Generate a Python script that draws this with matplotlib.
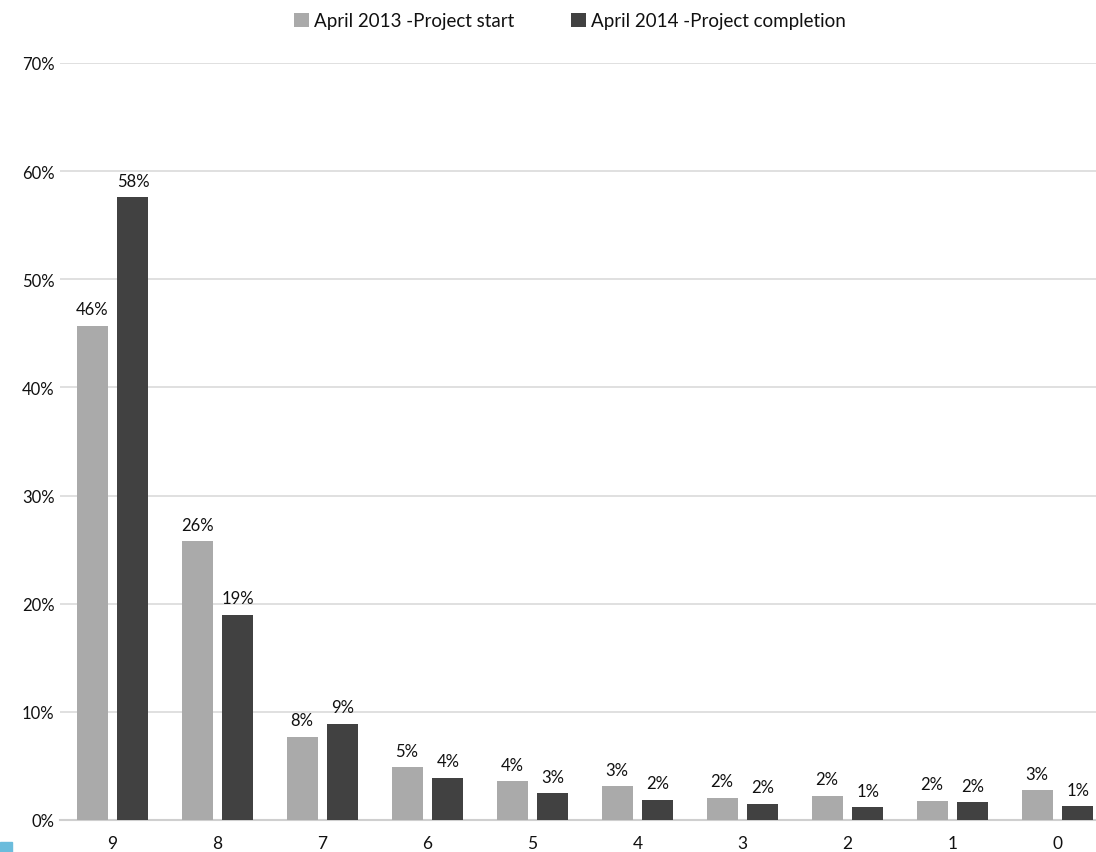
import numpy as np
import matplotlib.pyplot as plt
from matplotlib.patches import Rectangle

# categories and series (fractions)
categories = ['9', '8', '7', '6', '5', '4', '3', '2', '1', '0']
start_2013 = [0.457, 0.258, 0.077, 0.049, 0.036, 0.031, 0.0205, 0.0224, 0.018, 0.0278]
end_2014 = [0.576, 0.190, 0.089, 0.039, 0.025, 0.0189, 0.015, 0.0117, 0.0164, 0.0126]
labels_2013 = ['46%', '26%', '8%', '5%', '4%', '3%', '2%', '2%', '2%', '3%']
labels_2014 = ['58%', '19%', '9%', '4%', '3%', '2%', '2%', '1%', '2%', '1%']
series_names = ['April 2013 -Project start', 'April 2014 -Project completion']
yticks = [0, 0.1, 0.2, 0.3, 0.4, 0.5, 0.6, 0.7]

light = '#aaaaaa'
dark = '#414141'
txt = '#111111'
plt.rcParams['font.family'] = ['Lato', 'DejaVu Sans']

fig = plt.figure(figsize=(10.96, 8.53), dpi=100)
ax = fig.add_axes([60 / 1096, 1 - 821 / 853, 1050 / 1096, (821 - 64) / 853])

x = np.arange(len(categories))
w = 0.295
off = 0.195
b1 = ax.bar(x - off, start_2013, w, color=light, label=series_names[0], zorder=3)
b2 = ax.bar(x + off, end_2014, w, color=dark, label=series_names[1], zorder=3)

for bars, labs in ((b1, labels_2013), (b2, labels_2014)):
    for r, t in zip(bars, labs):
        ax.annotate(t, (r.get_x() + r.get_width() / 2, r.get_height()),
                    xytext=(0, 6), textcoords='offset points',
                    ha='center', va='bottom', fontsize=12, color=txt)

ax.set_xlim(-0.5, len(categories) - 0.5)
ax.set_ylim(0, 0.7)
ax.set_yticks(yticks)
ax.set_yticklabels([f'{int(round(v * 100))}%' for v in yticks])
ax.set_xticks(x)
ax.set_xticklabels(categories)
ax.tick_params(axis='both', length=0, labelsize=12, colors=txt)
ax.tick_params(axis='x', pad=11, labelsize=12.5)
ax.tick_params(axis='y', pad=4)
ax.grid(axis='y', color='#dadada', linewidth=1.2, zorder=0)
for s in ['top', 'right', 'left']:
    ax.spines[s].set_visible(False)
ax.spines['bottom'].set_color('#cfcfcf')
ax.spines['bottom'].set_linewidth(1.5)

leg = fig.legend(loc='center', bbox_to_anchor=(0.52, 1 - 22 / 853), ncol=2,
                 frameon=False, fontsize=13.5, handlelength=0.8, handleheight=0.8,
                 handletextpad=0.3, columnspacing=3.0)
for t in leg.get_texts():
    t.set_color(txt)

# small blue mark in the lower-left corner of the original
fig.patches.append(Rectangle((0, 0), 12 / 1096, 10 / 853, transform=fig.transFigure,
                             color='#6bbcdc', zorder=5))

fig.savefig('out.png', dpi=100)
